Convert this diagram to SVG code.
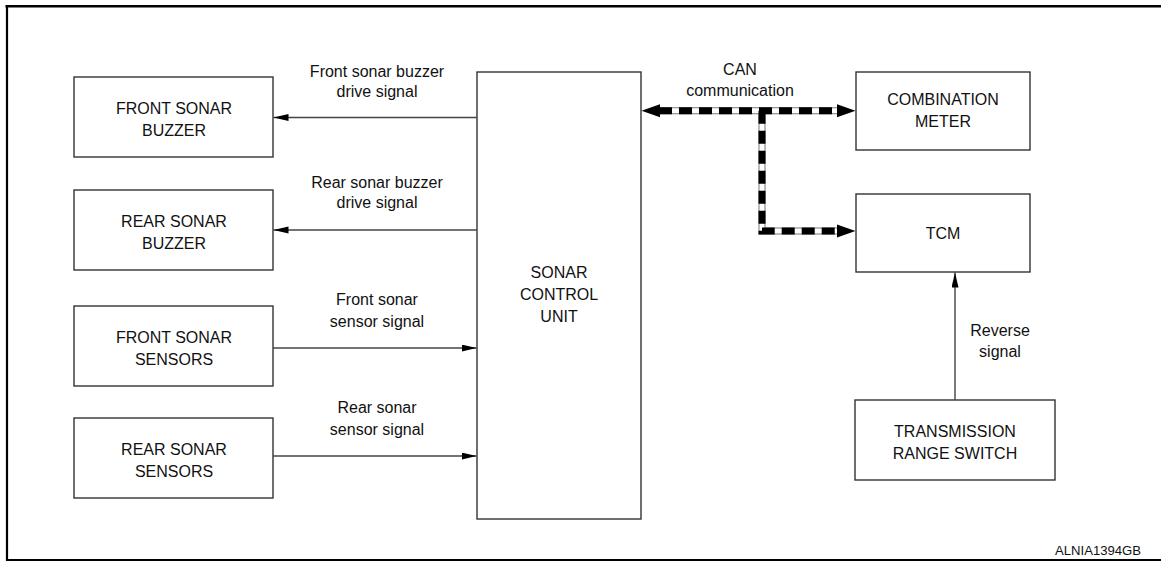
<svg xmlns="http://www.w3.org/2000/svg" width="1161" height="561" viewBox="0 0 1161 561">
<style>
.box{fill:#fff;stroke:#333;stroke-width:1.4}
.t{font-family:"Liberation Sans",Arial,sans-serif;font-size:16px;fill:#111;text-anchor:middle}
.ln{fill:none;stroke:#444;stroke-width:1.4}
.canO{fill:none;stroke:#777;stroke-width:7}
.canW{fill:none;stroke:#fff;stroke-width:5}
.canB{fill:none;stroke:#000;stroke-width:7;stroke-dasharray:13 7}
.frame{fill:none;stroke:#000}
</style>
<defs>
<marker id="ah" markerUnits="userSpaceOnUse" markerWidth="16" markerHeight="8" refX="15" refY="3.5" orient="auto">
<path d="M0,0 L15,3.5 L0,7 Z" fill="#000"/>
</marker>
</defs>
<rect width="1161" height="561" fill="#fff"/>
<g id="frame">
<line class="frame" x1="5.5" y1="6.3" x2="1161" y2="6.3" stroke-width="2.6"/>
<line class="frame" x1="7" y1="5" x2="7" y2="561" stroke-width="2.2"/>
<line class="frame" x1="6" y1="560" x2="1161" y2="560" stroke-width="2"/>
</g>
<g id="front-sonar-buzzer">
<rect class="box" x="74" y="77" width="199" height="80"/>
<text class="t" x="174" y="114">FRONT SONAR</text>
<text class="t" x="174" y="136">BUZZER</text>
</g>
<g id="rear-sonar-buzzer">
<rect class="box" x="74" y="190" width="199" height="80"/>
<text class="t" x="174" y="227">REAR SONAR</text>
<text class="t" x="174" y="249">BUZZER</text>
</g>
<g id="front-sonar-sensors">
<rect class="box" x="74" y="306" width="199" height="80"/>
<text class="t" x="174" y="343">FRONT SONAR</text>
<text class="t" x="174" y="365">SENSORS</text>
</g>
<g id="rear-sonar-sensors">
<rect class="box" x="74" y="418" width="199" height="80"/>
<text class="t" x="174" y="455">REAR SONAR</text>
<text class="t" x="174" y="477">SENSORS</text>
</g>
<g id="sonar-control-unit">
<rect class="box" x="477" y="72" width="164" height="447"/>
<text class="t" x="559" y="278">SONAR</text>
<text class="t" x="559" y="300">CONTROL</text>
<text class="t" x="559" y="322">UNIT</text>
</g>
<g id="combination-meter">
<rect class="box" x="856" y="72" width="174" height="78"/>
<text class="t" x="943" y="105">COMBINATION</text>
<text class="t" x="943" y="127">METER</text>
</g>
<g id="tcm">
<rect class="box" x="856" y="194" width="174" height="78"/>
<text class="t" x="943" y="239">TCM</text>
</g>
<g id="transmission-range-switch">
<rect class="box" x="855" y="400" width="200" height="80"/>
<text class="t" x="955" y="437">TRANSMISSION</text>
<text class="t" x="955" y="459">RANGE SWITCH</text>
</g>
<g id="connectors">
<line class="ln" x1="477" y1="117.5" x2="273.5" y2="117.5" marker-end="url(#ah)"/>
<line class="ln" x1="477" y1="230" x2="273.5" y2="230" marker-end="url(#ah)"/>
<line class="ln" x1="273" y1="348" x2="476.5" y2="348" marker-end="url(#ah)"/>
<line class="ln" x1="273" y1="456" x2="476.5" y2="456" marker-end="url(#ah)"/>
<line class="ln" x1="955" y1="400" x2="955" y2="272.5" marker-end="url(#ah)"/>
<g id="can-bus">
<path class="canO" d="M659,110.7 H838 M762,110.7 V231 H838"/>
<path class="canW" d="M659,110.7 H838 M762,110.7 V231 H838"/>
<path class="canB" d="M659,110.7 H838"/>
<path class="canB" d="M762,110.7 V231 H838"/>
<polygon points="641.5,110.7 660,104.2 660,117.2" fill="#000"/>
<polygon points="855.5,110.7 837,104.2 837,117.2" fill="#000"/>
<polygon points="855.5,231 837,224.5 837,237.5" fill="#000"/>
</g>
</g>
<g id="labels">
<text class="t" x="377" y="77">Front sonar buzzer</text>
<text class="t" x="377" y="97">drive signal</text>
<text class="t" x="377" y="188">Rear sonar buzzer</text>
<text class="t" x="377" y="208">drive signal</text>
<text class="t" x="377" y="305">Front sonar</text>
<text class="t" x="377" y="327">sensor signal</text>
<text class="t" x="377" y="413">Rear sonar</text>
<text class="t" x="377" y="435">sensor signal</text>
<text class="t" x="740" y="75">CAN</text>
<text class="t" x="740" y="96">communication</text>
<text class="t" x="1000" y="336">Reverse</text>
<text class="t" x="1000" y="357">signal</text>
<text font-family="'Liberation Sans',Arial,sans-serif" font-size="12" fill="#111" x="1055" y="555" textLength="86" lengthAdjust="spacingAndGlyphs">ALNIA1394GB</text>
</g>
</svg>
